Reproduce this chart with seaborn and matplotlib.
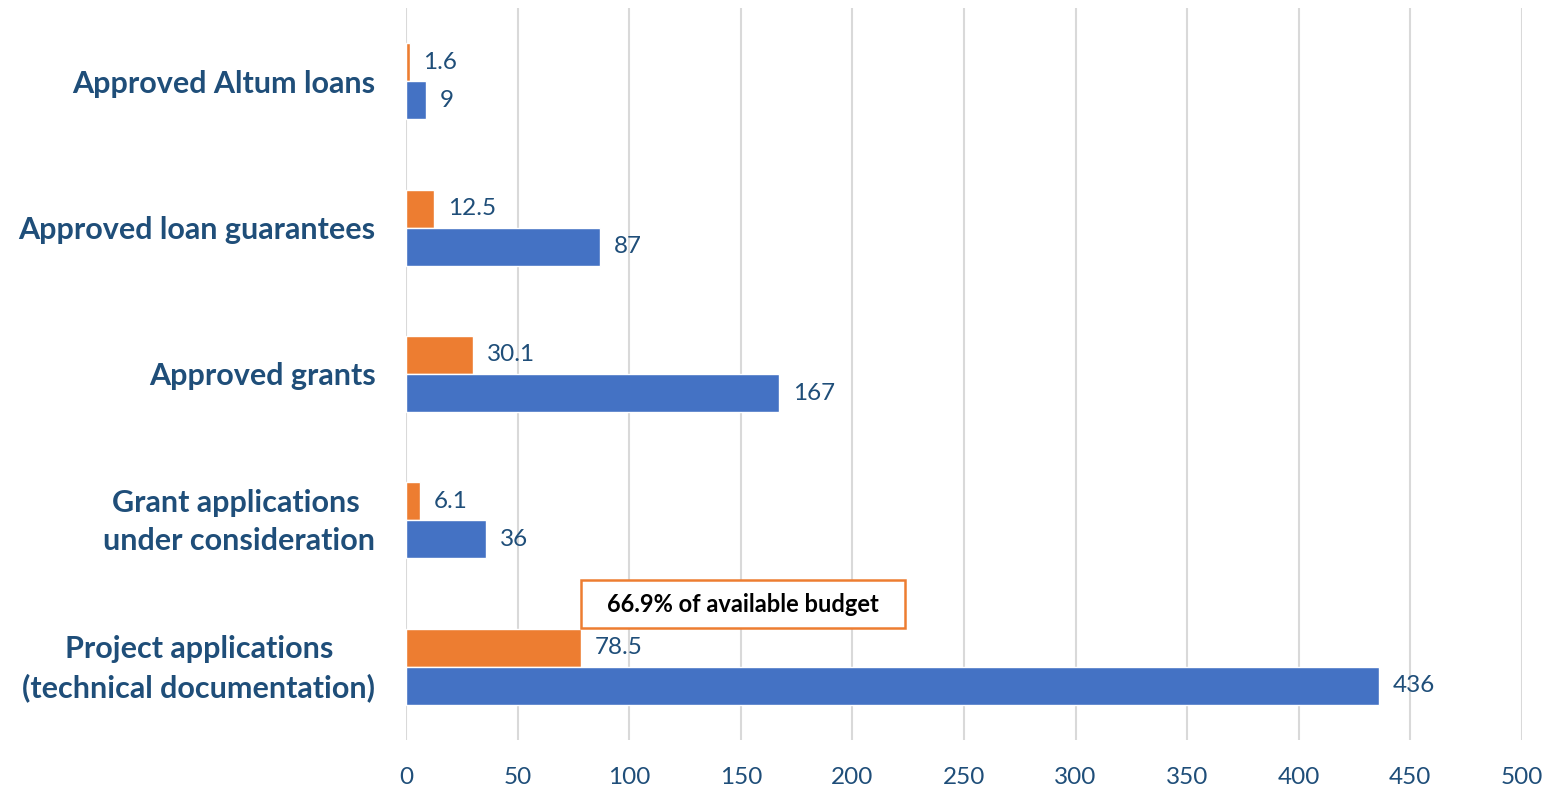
import matplotlib
matplotlib.use("Agg")
import matplotlib.pyplot as plt
import matplotlib.transforms as mtransforms
import seaborn as sns
import pandas as pd
from matplotlib.patches import Rectangle

categories = ["Approved Altum loans", "Approved loan guarantees", "Approved grants",
              "Grant applications \nunder consideration",
              "Project applications\n(technical documentation)"]
orange_vals = [1.6, 12.5, 30.1, 6.1, 78.5]
blue_vals = [9, 87, 167, 36, 436]
orange_labels = ["1.6", "12.5", "30.1", "6.1", "78.5"]
blue_labels = ["9", "87", "167", "36", "436"]
x_ticks = [0, 50, 100, 150, 200, 250, 300, 350, 400, 450, 500]
annotation_text = "66.9% of available budget"

sns.set_theme(style="white")
plt.rcParams['font.family'] = ['Lato', 'DejaVu Sans']

df = pd.DataFrame({
    "category": categories * 2,
    "value": orange_vals + blue_vals,
    "series": ["orange"] * 5 + ["blue"] * 5,
})

fig = plt.figure(figsize=(15.68, 7.91), dpi=100)
ax = fig.add_axes([406/1568, 1 - 740/791, (1522-406)/1568, (740-8)/791])

sns.barplot(data=df, y="category", x="value", hue="series", orient="h",
            hue_order=["orange", "blue"], palette={"orange": "#ED7D31", "blue": "#4472C4"},
            width=0.52, gap=0, saturation=1, legend=False, ax=ax, order=categories)

txt_color = "#1F4E79"
for cont, labels in zip(ax.containers, [orange_labels, blue_labels]):
    ax.bar_label(cont, labels=labels, padding=10, color=txt_color, fontsize=17.5)

ax.set_xlim(0, 500)
ax.set_ylim(4.5, -0.5)
ax.set_xticks(x_ticks)
ax.set_xticklabels([str(t) for t in x_ticks], color=txt_color, fontsize=17.5)
ax.tick_params(axis="x", length=0, pad=19.5)
ax.tick_params(axis="y", length=0, pad=22)
shift = mtransforms.ScaledTranslation(0, 6 / 100, fig.dpi_scale_trans)
for lbl in ax.get_yticklabels():
    lbl.set_fontweight("bold")
    lbl.set_fontsize(22)
    lbl.set_color(txt_color)
    lbl.set_multialignment("center")
    lbl.set_linespacing(1.45)
    if "\n" in lbl.get_text():
        lbl.set_transform(lbl.get_transform() + shift)
ax.set_xlabel("")
ax.set_ylabel("")
ax.xaxis.grid(True, color="#D9D9D9", linewidth=1.5)
ax.set_axisbelow(True)
for s in ax.spines.values():
    s.set_visible(False)

# annotation box
ax.add_patch(Rectangle((78.5, 3.41), 145, 0.325, facecolor="white", edgecolor="#ED7D31",
                       linewidth=1.8, zorder=5))
ax.text(151, 3.575, annotation_text, ha="center", va="center", fontsize=17,
        fontweight="bold", color="black", zorder=6)

fig.savefig("out.png", dpi=100)
